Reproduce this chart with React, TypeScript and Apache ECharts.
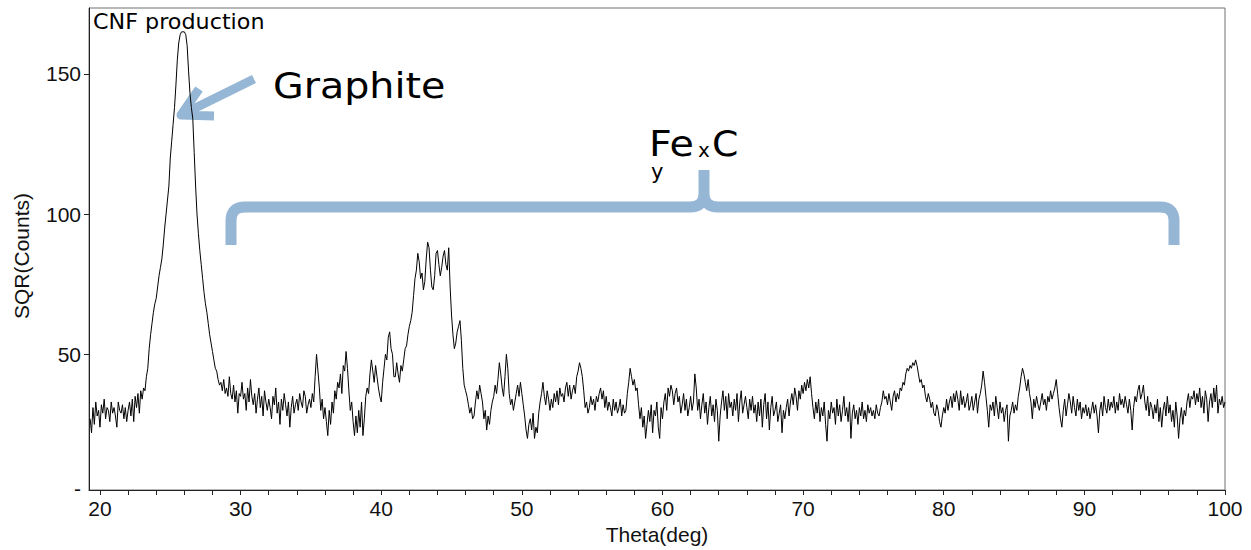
import React, { useEffect, useRef } from "react";
import * as echarts from "echarts";

// Scan start and step (degrees); counts are read every 0.1 deg from 19.3 to 100.0
const thetaStart = 19.3;
const thetaStep = 0.1;

const sqrCounts: number[] = [
  // 19.3 - 19.9
  27, 22, 31, 25, 33, 28, 30,
  // 20
  24, 32, 29, 34, 27, 31, 30, 26, 33, 29,
  // 21
  31, 28, 24, 33, 30, 29, 32, 27, 31, 26,
  // 22
  30, 33, 28, 34, 26, 35, 31, 36, 29, 37,
  // 23
  34, 38, 37, 42, 45, 52, 57, 61, 65, 68,
  // 24
  70, 74, 78, 81, 84, 89, 95, 100, 105, 110,
  // 25
  120, 126, 132, 138, 146, 155, 161, 164, 165, 165,
  // 26
  165, 164, 160, 151, 143, 138, 134, 122, 110, 100,
  // 27
  93, 87, 82, 77, 72, 68, 65, 61, 57, 54,
  // 28
  51, 48, 45, 44, 41, 39, 40, 37, 41, 36,
  // 29
  38, 35, 42, 36, 34, 39, 33, 37, 29, 36,
  // 30
  35, 40, 34, 36, 30, 38, 33, 41, 35, 32,
  // 31
  36, 29, 34, 38, 31, 35, 28, 37, 33, 30,
  // 32
  34, 31, 27, 35, 32, 38, 29, 33, 25, 34,
  // 33
  30, 36, 32, 28, 33, 24, 31, 35, 29, 32,
  // 34
  34, 30, 36, 33, 31, 37, 35, 29, 32, 34,
  // 35
  31, 36, 33, 42, 50, 44, 38, 30, 34, 27,
  // 36
  31, 26, 21, 30, 25, 33, 29, 37, 34, 40,
  // 37
  38, 43, 36, 46, 44, 51, 45, 37, 30, 33,
  // 38
  26, 21, 28, 22, 30, 24, 33, 21, 27, 35,
  // 39
  38, 36, 43, 48, 44, 40, 46, 42, 38, 35,
  // 40
  33, 40, 45, 50, 48, 56, 58, 52, 50, 42,
  // 41
  42, 47, 43, 40, 46, 44, 48, 52, 53, 57,
  // 42
  60, 62, 65, 71, 77, 80, 86, 83, 77, 79,
  // 43
  73, 76, 84, 90, 88, 80, 74, 73, 78, 86,
  // 44
  87, 82, 78, 81, 85, 87, 82, 80, 88, 74,
  // 45
  64, 57, 52, 54, 58, 60, 62, 55, 45, 39,
  // 46
  37, 35, 32, 29, 31, 27, 28, 33, 37, 34,
  // 47
  39, 36, 33, 27, 30, 23, 28, 25, 30, 33,
  // 48
  35, 39, 36, 41, 47, 43, 38, 35, 42, 50,
  // 49
  45, 36, 32, 34, 30, 33, 36, 39, 35, 40,
  // 50
  36, 32, 28, 23, 20, 25, 27, 23, 29, 20,
  // 51
  24, 22, 29, 33, 36, 40, 35, 32, 37, 34,
  // 52
  30, 34, 31, 36, 33, 37, 32, 38, 35, 36,
  // 53
  33, 38, 40, 35, 39, 34, 37, 39, 36, 42,
  // 54
  44, 47, 45, 42, 37, 31, 33, 29, 31, 35,
  // 55
  32, 34, 30, 35, 33, 36, 38, 34, 37, 31,
  // 56
  35, 30, 33, 31, 28, 34, 30, 33, 29, 31,
  // 57
  34, 28, 32, 29, 30, 36, 40, 45, 42, 39,
  // 58
  41, 37, 38, 32, 27, 31, 24, 28, 20, 25,
  // 59
  30, 26, 32, 22, 30, 28, 33, 24, 20, 31,
  // 60
  27, 33, 36, 30, 38, 35, 39, 37, 32, 36,
  // 61
  38, 33, 35, 29, 32, 36, 30, 34, 28, 31,
  // 62
  35, 30, 33, 43, 38, 30, 34, 27, 32, 36,
  // 63
  29, 33, 25, 31, 35, 28, 32, 26, 34, 30,
  // 64
  19, 28, 33, 37, 30, 35, 27, 36, 31, 33,
  // 65
  28, 34, 30, 36, 26, 33, 37, 29, 32, 35,
  // 66
  31, 27, 34, 30, 35, 29, 32, 26, 33, 28,
  // 67
  34, 24, 32, 36, 27, 33, 23, 31, 35, 28,
  // 68
  30, 33, 26, 29, 32, 22, 30, 27, 31, 34,
  // 69
  28, 33, 36, 32, 38, 35, 30, 37, 34, 39,
  // 70
  36, 40, 37, 41, 38, 42, 36, 31, 27, 33,
  // 71
  29, 34, 26, 31, 28, 33, 25, 19, 30, 27,
  // 72
  33, 29, 31, 25, 34, 28, 32, 26, 30, 35,
  // 73
  28, 31, 26, 33, 20, 29, 32, 27, 30, 25,
  // 74
  31, 28, 33, 27, 30, 26, 32, 29, 31, 28,
  // 75
  30, 27, 32, 29, 28, 31, 33, 37, 34, 35,
  // 76
  32, 36, 33, 30, 35, 37, 33, 36, 34, 38,
  // 77
  37, 40, 39, 43, 45, 44, 46, 45, 47, 46,
  // 78
  48, 46, 43, 40, 41, 38, 39, 35, 33, 36,
  // 79
  34, 31, 33, 29, 28, 32, 30, 26, 24, 28,
  // 80
  31, 29, 34, 30, 33, 35, 31, 36, 33, 37,
  // 81
  34, 30, 37, 32, 35, 31, 33, 36, 30, 32,
  // 82
  35, 30, 33, 36, 29, 34, 36, 39, 44, 40,
  // 83
  35, 30, 24, 32, 30, 33, 28, 35, 31, 27,
  // 84
  33, 29, 31, 26, 30, 32, 19, 28, 30, 33,
  // 85
  29, 32, 30, 35, 38, 42, 45, 43, 40, 37,
  // 86
  41, 36, 33, 27, 34, 31, 35, 32, 30, 33,
  // 87
  36, 32, 34, 30, 35, 33, 37, 34, 36, 38,
  // 88
  41, 36, 31, 27, 24, 30, 34, 28, 32, 36,
  // 89
  33, 29, 35, 31, 28, 34, 30, 33, 27, 31,
  // 90
  29, 32, 28, 31, 27, 30, 33, 29, 32, 28,
  // 91
  22, 30, 33, 28, 35, 31, 29, 34, 30, 33,
  // 92
  31, 35, 29, 33, 30, 36, 32, 34, 31, 35,
  // 93
  32, 29, 34, 30, 23, 31, 35, 33, 37, 39,
  // 94
  34, 36, 39, 33, 30, 35, 28, 33, 31, 27,
  // 95
  32, 29, 34, 26, 31, 24, 30, 33, 28, 35,
  // 96
  29, 32, 26, 30, 24, 33, 28, 20, 27, 31,
  // 97
  25, 30, 28, 33, 36, 31, 35, 34, 37, 32,
  // 98
  36, 33, 38, 31, 35, 29, 37, 34, 26, 33,
  // 99
  36, 31, 38, 33, 39, 29, 34, 32, 35, 31,
  // 100
  33,
];

const xTickValues = [20, 22, 24, 26, 28, 30, 32, 34, 36, 38, 40, 42, 44, 46, 48, 50, 52, 54, 56, 58, 60, 62, 64, 66, 68, 70, 72, 74, 76, 78, 80, 82, 84, 86, 88, 90, 92, 94, 96, 98, 100];
const xLabelValues = [20, 30, 40, 50, 60, 70, 80, 90, 100];
const yTickValues = [50, 100, 150];
const yLabelValues = [2.3, 50, 100, 150];

const titleText = "CNF production";
const graphiteText = "Graphite";
const xAxisName = "Theta(deg)";
const yAxisName = "SQR(Counts)";

const accent = "#95b6d4";

// Curly brace spanning the iron-carbide region, and the arrow pointing at the graphite peak
const bracePath =
  "M231 245 L231 221 Q231 207 245 207 L690 207 Q704 207 704 193 L704 170 " +
  "M1174 245 L1174 221 Q1174 207 1160 207 L718 207 Q704 207 704 193";
const arrowPath = "M254 79 L181 115 M199 89 L181 115 L214 116";

echarts.graphic.registerShape("brace", echarts.graphic.extendPath(bracePath, {}));
echarts.graphic.registerShape("pointer", echarts.graphic.extendPath(arrowPath, {}));

export default function App() {
  const ref = useRef<HTMLDivElement>(null);

  useEffect(() => {
    if (!ref.current) return;
    const chart = echarts.init(ref.current, undefined, { renderer: "svg" });
    const points = sqrCounts.map((v, i) => [
      Number((thetaStart + i * thetaStep).toFixed(2)),
      v,
    ]);
    const axisFont = "'Liberation Sans', Arial, sans-serif";
    const noteFont = "'DejaVu Sans', sans-serif";

    chart.setOption({
      animation: false,
      backgroundColor: "#ffffff",
      grid: {
        left: 89,
        right: 26,
        top: 8,
        bottom: 59,
        show: true,
        borderColor: "#707070",
        borderWidth: 1,
        backgroundColor: "transparent",
      },
      xAxis: {
        type: "value",
        min: 19.22,
        max: 100,
        name: xAxisName,
        nameLocation: "middle",
        nameGap: 34,
        nameTextStyle: { fontFamily: axisFont, fontSize: 21, color: "#111" },
        axisLine: { show: true, lineStyle: { color: "#222", width: 1 } },
        axisTick: {
          show: true,
          length: 5,
          inside: false,
          customValues: xTickValues,
          lineStyle: { color: "#222" },
        },
        axisLabel: {
          customValues: xLabelValues,
          margin: 8,
          fontFamily: axisFont,
          fontSize: 21,
          color: "#111",
        },
        splitLine: { show: false },
      },
      yAxis: {
        type: "value",
        min: 1.6,
        max: 173.5,
        name: yAxisName,
        nameLocation: "middle",
        nameGap: 57,
        nameTextStyle: { fontFamily: axisFont, fontSize: 21, color: "#111", padding: [0, 14, 0, 0] },
        axisLine: { show: true, lineStyle: { color: "#222", width: 1 } },
        axisTick: {
          show: true,
          length: 5,
          customValues: yTickValues,
          lineStyle: { color: "#222" },
        },
        axisLabel: {
          customValues: yLabelValues,
          margin: 8,
          fontFamily: axisFont,
          fontSize: 21,
          color: "#111",
          formatter: (v: number) => (v < 10 ? "-" : String(Math.round(v))),
        },
        splitLine: { show: false },
      },
      series: [
        {
          type: "line",
          data: points,
          showSymbol: false,
          symbol: "none",
          lineStyle: { color: "#000", width: 1 },
          clip: true,
        },
      ],
      graphic: [
        {
          type: "text",
          x: 93,
          y: 11,
          scaleX: 1.06,
          style: { text: titleText, fontFamily: noteFont, fontSize: 21, fill: "#000" },
        },
        {
          type: "brace",
          x: 0,
          y: 0,
          shape: {},
          style: { fill: "none", stroke: accent, lineWidth: 11, lineCap: "butt", lineJoin: "round" },
        },
        {
          type: "pointer",
          x: 0,
          y: 0,
          shape: {},
          style: { fill: "none", stroke: accent, lineWidth: 9, lineCap: "butt", lineJoin: "round" },
        },
        {
          type: "text",
          x: 273,
          y: 86,
          scaleX: 1.1,
          style: {
            text: graphiteText,
            fontFamily: noteFont,
            fontSize: 36,
            fill: "#000",
            verticalAlign: "middle",
            align: "left",
          },
        },
        {
          type: "text",
          x: 649,
          y: 144,
          scaleX: 1.1,
          style: { text: "Fe", fontFamily: noteFont, fontSize: 36, fill: "#000", verticalAlign: "middle" },
        },
        {
          type: "text",
          x: 698,
          y: 150,
          style: { text: "x", fontFamily: noteFont, fontSize: 20, fill: "#000", verticalAlign: "middle" },
        },
        {
          type: "text",
          x: 712,
          y: 144,
          scaleX: 1.05,
          style: { text: "C", fontFamily: noteFont, fontSize: 36, fill: "#000", verticalAlign: "middle" },
        },
        {
          type: "text",
          x: 651,
          y: 172,
          style: { text: "y", fontFamily: noteFont, fontSize: 21, fill: "#000", verticalAlign: "middle" },
        },
      ],
    });

    return () => chart.dispose();
  }, []);

  return (
    <div
      ref={ref}
      style={{ position: "fixed", left: 0, top: 0, width: 1251, height: 550, background: "#fff" }}
    />
  );
}
